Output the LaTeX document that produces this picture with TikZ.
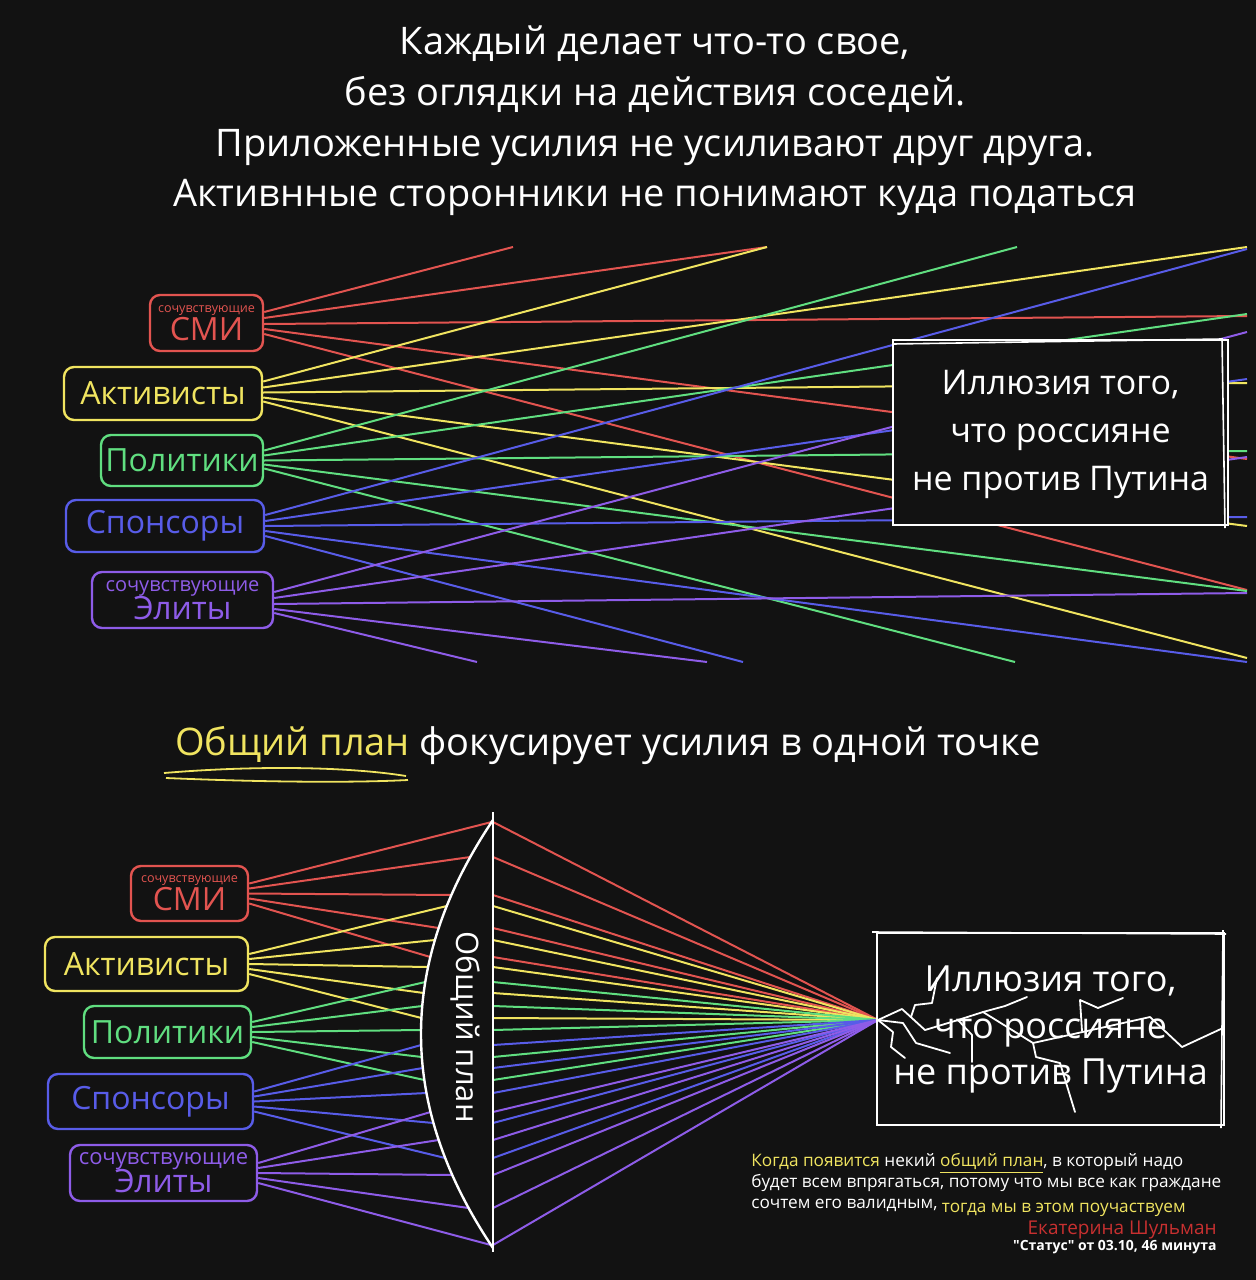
\documentclass[tikz,border=0pt]{standalone}
\usepackage{fontspec}
\setmainfont{Open Sans}
\usetikzlibrary{calc}
\definecolor{bgdark}{RGB}{18,18,18}
\definecolor{rayred}{RGB}{226,84,80}
\definecolor{rayyellow}{RGB}{240,228,96}
\definecolor{raygreen}{RGB}{96,222,128}
\definecolor{rayblue}{RGB}{88,92,232}
\definecolor{raypurple}{RGB}{142,92,232}
\definecolor{quotered}{RGB}{200,48,48}

\begin{document}
\begin{tikzpicture}[x=0.5pt,y=-0.5pt,
    beam/.style={draw=#1, line width=1pt},
    grp/.style={draw=#1, text=#1, fill=bgdark, rounded corners=5pt, line width=1.2pt,
      inner sep=0pt, align=center, font=\fontsize{16}{18}\selectfont},
    illusion/.style={draw=white, fill=bgdark, text=white, line width=1.2pt, inner sep=0pt},
    crack/.style={draw=white, line width=0.9pt, line join=round, line cap=round}]

  \fill[bgdark] (0,0) rectangle (1256,1280);

  \node[text=white, align=center, font=\fontsize{19}{25.3}\selectfont] (title) at (655,121)
    {Каждый делает что-то свое,\\без оглядки на действия соседей.\\Приложенные усилия не усиливают друг друга.\\Активнные сторонники не понимают куда податься};

  % each on its own
  \node[grp=rayred, minimum width=56.5pt, minimum height=28pt] (smitop) at (206.5,323)
    {{\fontsize{6.3}{7}\selectfont сочувствующие}\\[-4pt]СМИ};
  \node[grp=rayyellow, minimum width=99pt, minimum height=26.5pt] (acttop) at (163,393.5) {Активисты};
  \node[grp=raygreen, minimum width=81pt, minimum height=25.5pt] (poltop) at (182,460.5) {Политики};
  \node[grp=rayblue, minimum width=99pt, minimum height=26pt] (spotop) at (165,526) {Спонсоры};
  \node[grp=raypurple, minimum width=90.5pt, minimum height=28pt] (elitop) at (182.5,600)
    {{\fontsize{10}{11}\selectfont сочувствующие}\\[-4pt]Элиты};

  \foreach \dy/\ex/\ey in {-11/513/247,-5/767/247,1/1247/316,6/1247/459,11/1247/590}
    \draw[beam=rayred] ($(smitop.east)+(0,\dy)$) -- (\ex,\ey);
  \foreach \dy/\ex/\ey in {-12/767/247,-6/1247/247,-1/1247/383,4/1247/526,8/1247/658}
    \draw[beam=rayyellow] ($(acttop.east)+(0,\dy)$) -- (\ex,\ey);
  \foreach \dy/\ex/\ey in {-10/1017/247,-5/1247/314,0/1247/451,4/1247/591,8/1015/662}
    \draw[beam=raygreen] ($(poltop.east)+(0,\dy)$) -- (\ex,\ey);
  \foreach \dy/\ex/\ey in {-11/1247/249,-5/1247/379,0/1247/517,5/1247/662,10/743/662}
    \draw[beam=rayblue] ($(spotop.east)+(0,\dy)$) -- (\ex,\ey);
  \foreach \dy/\ex/\ey in {-8/1247/332,-2/1247/457,4/1247/593,9/707/662,13/477/662}
    \draw[beam=raypurple] ($(elitop.east)+(0,\dy)$) -- (\ex,\ey);

  \node[illusion, minimum width=167.5pt, minimum height=92.5pt, font=\fontsize{17}{24}\selectfont]
    (illtop) at (1060.5,432.5) {\begin{tabular}{@{}c@{}}Иллюзия того,\\что россияне\\не против Путина\end{tabular}};
  \draw[white, line width=0.8pt] (893,344) -- (1222,339) -- (1225,528);

  % plan
  \node[anchor=west, text=white, font=\fontsize{19}{22}\selectfont] (planline) at (168,745)
    {\textcolor{rayyellow}{Общий план} фокусирует усилия в одной точке};
  \draw[rayyellow, line width=0.9pt] (164,773) .. controls (260,765) and (350,767) .. (406,776);
  \draw[rayyellow, line width=0.9pt] (166,778) .. controls (260,782) and (350,783) .. (408,780);

  \node[grp=rayred, minimum width=58.5pt, minimum height=27.5pt] (smibot) at (189.5,893.5)
    {{\fontsize{6.3}{7}\selectfont сочувствующие}\\[-4pt]СМИ};
  \node[grp=rayyellow, minimum width=101.5pt, minimum height=27pt] (actbot) at (146.5,964) {Активисты};
  \node[grp=raygreen, minimum width=83.5pt, minimum height=26pt] (polbot) at (167.5,1032) {Политики};
  \node[grp=rayblue, minimum width=102.5pt, minimum height=27.5pt] (spobot) at (150.5,1101.5) {Спонсоры};
  \node[grp=raypurple, minimum width=93.5pt, minimum height=28pt] (elibot) at (163.5,1173)
    {{\fontsize{11}{12}\selectfont сочувствующие}\\[-4pt]Элиты};

  \coordinate (focus) at (878,1020);

  \foreach \src/\clr/\ya/\yb/\yc/\yd/\ye in {smibot/rayred/822/857/895/928/957,
      actbot/rayyellow/906/940/967/993/1018, polbot/raygreen/982/1006/1030/1057/1080,
      spobot/rayblue/1045/1068/1093/1123/1158, elibot/raypurple/1112/1140/1175/1208/1245}
    \foreach \dy/\ly in {-10/\ya,-5/\yb,0/\yc,5/\yd,10/\ye} {
      \pgfmathsetmacro\tpos{(\ly-820)/428}
      \pgfmathsetmacro\arcx{493-288*\tpos*(1-\tpos)}
      \draw[beam=\clr] ($(\src.east)+(0,\dy)$) -- (\arcx,\ly);
      \draw[beam=\clr] (493,\ly) -- (focus);
    }

  \draw[white, line width=1.2pt, fill=bgdark] (493,820) .. controls (397,962.7) and (397,1105.3) .. (493,1248);
  \draw[white, line width=1.2pt] (493,812) -- (493,1252);
  \node[rotate=-90, text=white, font=\fontsize{15.5}{17}\selectfont] (lens) at (466,1027) {Общий план};

  \node[illusion, minimum width=173.5pt, minimum height=96pt, font=\fontsize{18}{23.3}\selectfont]
    (illbot) at (1050.5,1029) {\begin{tabular}{@{}c@{}}Иллюзия того,\\что россияне\\не против Путина\end{tabular}};
  \draw[white, line width=0.8pt] (872,932) -- (1226,934);
  \draw[white, line width=0.8pt] (1223,930) -- (1221,1128);

  \draw[crack] (focus) -- (902,1009) -- (925,1030) -- (958,1020) -- (983,1012) -- (1033,1043)
    -- (1150,1017) -- (1182,1047) -- (1223,1028);
  \draw[crack] (911,1017) -- (915,1005) -- (932,1003) -- (937,978);
  \draw[crack] (focus) -- (893,1032) -- (891,1047) -- (905,1058);
  \draw[crack] (focus) -- (903,1023) -- (916,1043) -- (950,1053);
  \draw[crack] (958,1020) -- (972,1035) -- (972,1062);
  \draw[crack] (983,1012) -- (1005,1006) -- (1027,997);
  \draw[crack] (1033,1043) -- (1036,1057) -- (1060,1063) -- (1075,1112);
  \draw[crack] (1082,1031) -- (1080,1000) -- (1098,1008) -- (1123,998);

  \node[anchor=north west, inner sep=0pt, align=left, text=white, font=\fontsize{8.6}{10.6}\selectfont] (quote)
    at (751,1153) {\textcolor{rayyellow}{Когда появится} некий \textcolor{rayyellow}{\underline{общий план}}, в который надо\\
    будет всем впрягаться, потому что мы все как граждане\\
    сочтем его валидным, \raisebox{-2pt}{\textcolor{rayyellow}{тогда мы в этом поучаствуем}}};
  \node[anchor=east, inner sep=0pt, text=quotered, font=\fontsize{9.5}{11}\selectfont] (author) at (1217,1230)
    {Екатерина Шульман};
  \node[anchor=east, inner sep=0pt, text=white, font=\bfseries\fontsize{7}{8}\selectfont\addfontfeatures{Ligatures=TeXOff}]
    (source) at (1217,1247) {"Статус" от 03.10, 46 минута};
\end{tikzpicture}
\end{document}
